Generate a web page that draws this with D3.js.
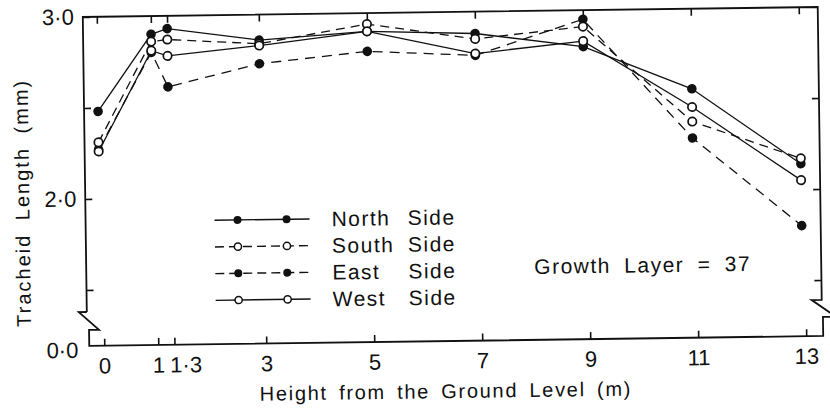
<!DOCTYPE html>
<html>
<head>
<meta charset="utf-8">
<script src="https://cdn.jsdelivr.net/npm/d3@7"></script>
<style>
  body { margin: 0; background: #fff; }
  svg { display: block; }
  text { font-family: "Liberation Sans", Arial, sans-serif; fill: #111; }
</style>
</head>
<body>
<div id="chart"></div>
<script>
// heights along the stem (m) and their tick labels
var heights = [0, 1, 1.3, 3, 5, 7, 9, 11, 13];
var xTickLabels = ["0", "1", "1·3", "3", "5", "7", "9", "11", "13"];

// tracheid length (mm), one array per side
var north = [2.48, 2.90, 2.93, 2.86, 2.90, 2.88, 2.80, 2.56, 2.14];
var south = [2.31, 2.86, 2.87, 2.84, 2.94, 2.85, 2.91, 2.38, 2.17];
var east  = [2.27, 2.80, 2.61, 2.73, 2.79, 2.76, 2.95, 2.29, 1.80];
var west  = [2.26, 2.81, 2.78, 2.83, 2.90, 2.77, 2.83, 2.46, 2.05];

var sideNames = ["North", "South", "East", "West"];
var yTicks = [1.5, 2.0, 2.5, 3.0];
var yTickLabels = {2: "2·0", 3: "3·0"};
var baseLabel = "0·0";   // value at the foot of the broken axis
var note = "Growth Layer = 37";

// marker / dash look for each side (same order as sideNames)
var styles = [
  {filled: true,  dash: null},
  {filled: false, dash: "9,6"},
  {filled: true,  dash: "10,7"},
  {filled: false, dash: null}
];

var series = sideNames.map(function(name, i) {
  return {name: name, values: [north, south, east, west][i], style: styles[i]};
});

var width = 830, height = 412;
var frame = {left: 85, right: 820, top: 12, bottom: 341};

var svg = d3.select("#chart").append("svg")
    .attr("width", width)
    .attr("height", height);

// the scanned figure sits slightly askew
var g = svg.append("g")
    .attr("transform", "rotate(-0.78,452,177)");

var xScale = d3.scaleLinear().domain([0, 13]).range([99, 801]),
    yScale = d3.scaleLinear().domain([2, 3]).range([194, 12]);

// frame with the axis breaks
g.append("path")
   .attr("d", "M" + frame.left + "," + 307 + "V" + frame.top + "H" + frame.right +
              "V305H810L830,319")
   .attr("fill", "none").attr("stroke", "#111").attr("stroke-width", 1.8);
g.append("path")
   .attr("d", "M" + frame.left + ",307H77L97,325H87V" + frame.bottom +
              "H821V322H830")
   .attr("fill", "none").attr("stroke", "#111").attr("stroke-width", 1.8);

function styleAxis(sel) {
  sel.select(".domain").remove();
  sel.attr("font-size", 22)
     .attr("font-family", "'Liberation Sans', Arial, sans-serif");
  sel.selectAll(".tick line").attr("stroke", "#111").attr("stroke-width", 1.6);
  sel.selectAll(".tick text").attr("fill", "#111");
}

// bottom axis
var xAxis = d3.axisBottom(xScale)
    .tickValues(heights)
    .tickFormat(function(d, i) { return xTickLabels[i]; })
    .tickSizeInner(-7).tickSizeOuter(0).tickPadding(12);
var gx = g.append("g")
   .attr("transform", "translate(3," + frame.bottom + ")")
   .call(xAxis)
   .call(styleAxis);
gx.selectAll(".tick text")
   .filter(function(d) { return d === 1.3; })
   .attr("text-anchor", "start").attr("dx", -5);

// top ticks
g.append("g")
   .attr("transform", "translate(0," + frame.top + ")")
   .call(d3.axisTop(xScale).tickValues(heights).tickFormat("")
           .tickSizeInner(-7).tickSizeOuter(0))
   .call(styleAxis);

// left axis
g.append("g")
   .attr("transform", "translate(" + frame.left + ",0)")
   .call(d3.axisLeft(yScale).tickValues(yTicks)
           .tickFormat(function(d) { return yTickLabels[d] || ""; })
           .tickSizeInner(-7).tickSizeOuter(0).tickPadding(9))
   .call(styleAxis);

g.append("text")
   .attr("x", 76).attr("y", frame.bottom + 4)
   .attr("dy", "0.35em")
   .attr("text-anchor", "end")
   .attr("font-size", 22)
   .text(baseLabel);

// right ticks
g.append("g")
   .attr("transform", "translate(" + frame.right + ",0)")
   .call(d3.axisRight(yScale).tickValues(yTicks.slice(0, 3)).tickFormat("")
           .tickSizeInner(-7).tickSizeOuter(0))
   .call(styleAxis);

// axis titles
g.append("text")
   .attr("transform", "translate(29,197) rotate(-90)")
   .attr("text-anchor", "middle")
   .attr("font-size", 20)
   .attr("letter-spacing", 2)
   .attr("word-spacing", 6)
   .text("Tracheid Length (mm)");

g.append("text")
   .attr("x", 443).attr("y", 398)
   .attr("text-anchor", "middle")
   .attr("font-size", 20)
   .attr("letter-spacing", 1.7)
   .attr("word-spacing", 4)
   .text("Height from the Ground Level (m)");

// series lines
var line = d3.line()
    .x(function(d, i) { return xScale(heights[i]); })
    .y(function(d) { return yScale(d); });

g.selectAll("path.side")
   .data(series)
   .enter().append("path")
   .attr("class", "side")
   .attr("d", function(d) { return line(d.values); })
   .attr("fill", "none")
   .attr("stroke", "#111")
   .attr("stroke-width", 1.3)
   .attr("stroke-dasharray", function(d) { return d.style.dash; });

// markers: filled ones first, open ones on top
var order = series.filter(function(s) { return s.style.filled; })
                  .concat(series.filter(function(s) { return !s.style.filled; }));

order.forEach(function(s) {
  g.selectAll(null)
     .data(s.values)
     .enter().append("circle")
     .attr("cx", function(d, i) { return xScale(heights[i]); })
     .attr("cy", function(d) { return yScale(d); })
     .attr("r", s.style.filled ? 4.8 : 4.2)
     .attr("fill", s.style.filled ? "#111" : "#fff")
     .attr("stroke", "#111")
     .attr("stroke-width", s.style.filled ? 0 : 1.7);
});

// legend
var legend = g.selectAll("g.legend")
    .data(series)
    .enter().append("g")
    .attr("class", "legend")
    .attr("transform", function(d, i) { return "translate(0," + (217 + i * 26.7) + ")"; });

legend.append("line")
   .attr("x1", 214).attr("x2", 309)
   .attr("stroke", "#111").attr("stroke-width", 1.4)
   .attr("stroke-dasharray", function(d) { return d.style.dash ? "9,5" : null; });

[237, 286].forEach(function(cx) {
  legend.append("circle")
     .attr("cx", cx).attr("cy", 0)
     .attr("r", function(d) { return d.style.filled ? 4 : 3.6; })
     .attr("fill", function(d) { return d.style.filled ? "#111" : "#fff"; })
     .attr("stroke", "#111")
     .attr("stroke-width", function(d) { return d.style.filled ? 0 : 1.5; });
});

legend.append("text")
   .attr("x", 331).attr("y", 7.5)
   .attr("font-size", 21)
   .attr("letter-spacing", 1.5)
   .text(function(d) { return d.name; });

legend.append("text")
   .attr("x", 407).attr("y", 7.5)
   .attr("font-size", 21)
   .attr("letter-spacing", 1.5)
   .text("Side");

g.append("text")
   .attr("x", 533).attr("y", 275)
   .attr("font-size", 21)
   .attr("letter-spacing", 1.5)
   .attr("word-spacing", 6)
   .text(note);
</script>
</body>
</html>
